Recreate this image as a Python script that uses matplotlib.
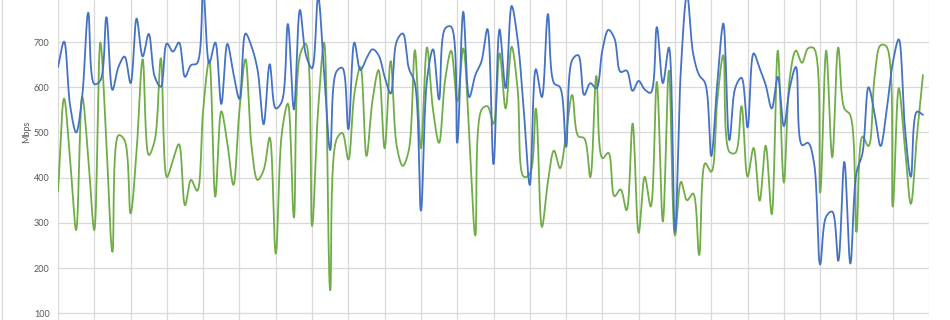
import numpy as np
import matplotlib
matplotlib.use("Agg")
import matplotlib.pyplot as plt

plt.rcParams["font.family"] = ["Lato", "DejaVu Sans"]

# 10-minute samples over one day (144 slots), values in Mbps
blue_mbps = [
    645, 701, 560, 500, 580, 765, 607, 615, 755, 594, 645, 668, 609, 752, 668, 718,
    623, 601, 697, 679, 699, 623, 649, 653, 815, 653, 699, 563, 696, 631, 574, 719,
    690, 638, 518, 651, 553, 568, 740, 551, 771, 671, 642, 800, 631, 461, 634, 643,
    507, 699, 638, 664, 684, 671, 623, 586, 702, 719, 642, 609, 327, 616, 684, 573,
    730, 734, 477, 767, 578, 627, 657, 729, 430, 728, 598, 780, 704, 550, 384, 640,
    578, 762, 609, 600, 468, 660, 671, 583, 609, 598, 682, 727, 708, 634, 637, 592,
    614, 595, 588, 733, 609, 688, 280, 645, 805, 675, 627, 609, 448, 609, 741, 483,
    600, 621, 511, 675, 642, 605, 553, 623, 514, 600, 645, 472, 477, 432, 208, 314,
    325, 216, 435, 210, 410, 454, 600, 542, 470, 550, 653, 706, 513, 402, 546, 539,
]
green_mbps = [
    369, 575, 439, 284, 579, 446, 284, 699, 476, 236, 494, 483, 321, 461, 662, 450,
    483, 664, 401, 439, 474, 339, 395, 371, 550, 660, 358, 547, 476, 384, 550, 662,
    469, 395, 417, 489, 232, 498, 564, 312, 671, 696, 293, 550, 699, 151, 483, 499,
    440, 586, 645, 448, 572, 638, 465, 658, 470, 426, 461, 682, 465, 688, 550, 477,
    616, 681, 568, 686, 491, 272, 550, 558, 519, 675, 553, 690, 594, 402, 408, 553,
    291, 391, 460, 421, 498, 583, 492, 487, 401, 625, 443, 455, 359, 374, 328, 520,
    278, 402, 336, 612, 303, 637, 272, 391, 350, 365, 229, 432, 413, 572, 671, 457,
    455, 558, 402, 466, 349, 471, 319, 681, 389, 623, 681, 654, 686, 686, 367, 681,
    445, 688, 553, 538, 280, 491, 470, 623, 693, 690, 336, 598, 469, 342, 491, 627,
]
y_ticks = [100, 200, 300, 400, 500, 600, 700]
y_label = "Mbps"

# rough screen scale (px per slot, px per Mbps) used only for the smoothing
X_SCALE, Y_SCALE = 6.05, 0.452


def smooth(values, steps=14):
    """Centripetal Catmull-Rom in screen space, close to Excel's smoothed line."""
    y = np.asarray(values, dtype=float)
    pts = np.column_stack([np.arange(len(y)) * X_SCALE, y * Y_SCALE])
    pts = np.vstack([2 * pts[0] - pts[1], pts, 2 * pts[-1] - pts[-2]])
    out = []
    for i in range(len(y) - 1):
        p0, p1, p2, p3 = pts[i], pts[i + 1], pts[i + 2], pts[i + 3]
        t0 = 0.0
        t1 = t0 + np.linalg.norm(p1 - p0) ** 0.5
        t2 = t1 + np.linalg.norm(p2 - p1) ** 0.5
        t3 = t2 + np.linalg.norm(p3 - p2) ** 0.5
        t = np.linspace(t1, t2, steps, endpoint=False)[:, None]
        a1 = (t1 - t) / (t1 - t0) * p0 + (t - t0) / (t1 - t0) * p1
        a2 = (t2 - t) / (t2 - t1) * p1 + (t - t1) / (t2 - t1) * p2
        a3 = (t3 - t) / (t3 - t2) * p2 + (t - t2) / (t3 - t2) * p3
        b1 = (t2 - t) / (t2 - t0) * a1 + (t - t0) / (t2 - t0) * a2
        b2 = (t3 - t) / (t3 - t1) * a2 + (t - t1) / (t3 - t1) * a3
        out.append((t2 - t) / (t2 - t1) * b1 + (t - t1) / (t2 - t1) * b2)
    out.append(pts[-2][None, :])
    out = np.vstack(out)
    return out[:, 0] / X_SCALE, out[:, 1] / Y_SCALE


fig = plt.figure(figsize=(9.5, 3.2), dpi=100)
ax = fig.add_axes([58 / 950, 0.0, 871 / 950, 1.0])

for series, color in ((green_mbps, "#70AD47"), (blue_mbps, "#4472C4")):
    xs, ys = smooth(series)
    ax.plot(xs, ys, color=color, lw=1.3, solid_capstyle="round")

ax.set_xlim(0, 144)
ax.set_ylim(85.2, 793.0)
ax.set_xticks(np.arange(0, 145, 6))
ax.set_yticks(y_ticks)
ax.set_yticklabels([str(v) for v in y_ticks], fontsize=6.5, color="#595959")
ax.tick_params(axis="y", length=0, pad=6)
ax.tick_params(axis="x", length=0, labelbottom=False)
ax.grid(True, color="#D9D9D9", lw=0.9)
ax.set_axisbelow(True)
for s in ax.spines.values():
    s.set_visible(False)

fig.text(27 / 950, 1 - 132 / 320, y_label, rotation=90, ha="center", va="center",
         fontsize=6.5, color="#595959")
fig.add_artist(plt.Line2D([1.5 / 950, 1.5 / 950], [0, 1], color="#D9D9D9", lw=0.8))

fig.savefig("out.png", dpi=100)
